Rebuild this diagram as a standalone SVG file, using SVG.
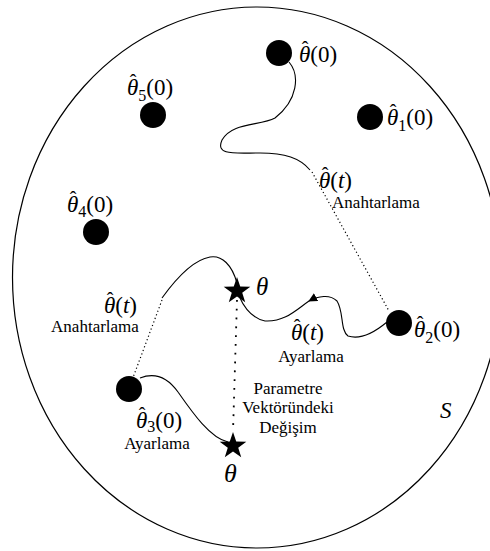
<svg xmlns="http://www.w3.org/2000/svg" width="490" height="551" viewBox="0 0 490 551">
<style>
.bd{fill:none;stroke:#000;stroke-width:1.2}
.ln{fill:none;stroke:#000;stroke-width:1.1}
.dt{fill:none;stroke:#000;stroke-width:1.2;stroke-dasharray:1.2,2.6}
.dv{fill:none;stroke:#000;stroke-width:1.8;stroke-dasharray:1.8,7}
.dot{fill:#000}
.m{font-family:"Liberation Serif","Times New Roman","DejaVu Serif",serif;font-size:23px;fill:#000}
.i{font-style:italic}
.h{font-size:20px;font-style:normal}
.sb{font-size:16px}
.t{font-family:"Liberation Serif","Times New Roman","DejaVu Serif",serif;font-size:17px;fill:#000}
</style>
<defs>
<polygon id="star" points="0,-14 3.23,-4.45 13.31,-4.33 5.23,1.7 8.23,11.33 0,5.5 -8.23,11.33 -5.23,1.7 -13.31,-4.33 -3.23,-4.45" fill="#000"/>
<marker id="arr" viewBox="0 0 10 10" refX="9" refY="5" markerWidth="9" markerHeight="9" markerUnits="userSpaceOnUse" orient="auto">
<path d="M0,0 L10,5 L0,10 z" fill="#000"/>
</marker>
</defs>
<g id="region">
<ellipse class="bd" cx="257" cy="277.5" rx="244.5" ry="270.5"/>
<text class="m i" x="440" y="418">S</text>
</g>
<g id="connectors">
<path class="ln" d="M289,62 C300,75 298,100 275,118 C260,126 232,122 222,140 C215,156 235,153 260,153 C285,153 300,158 310,170"/>
<path class="dt" d="M312,172 L389,311"/>
<path class="ln" marker-end="url(#arr)" d="M387,322 C375,332 360,340 348,336 C340,330 344,312 337,301 C330,294 318,296 309,301"/>
<path class="ln" d="M309,301 C296,310 285,322 265,321 C250,318 243,305 239,296"/>
<path class="ln" d="M237,283 C232,265 222,255 210,257 C192,260 175,280 162,298"/>
<path class="dt" d="M162,300 L131,383"/>
<path class="ln" d="M140,378 C155,372 168,378 178,392 C192,412 210,438 228,442"/>
<path class="dv" d="M237,300 L233,432"/>
</g>
<g id="theta0">
<circle class="dot" cx="279" cy="53" r="13"/>
<text class="m" x="299" y="62"><tspan class="i">θ</tspan><tspan class="h" dx="-8.5" dy="-6">ˆ</tspan><tspan dx="1.8" dy="6">(0)</tspan></text>
</g>
<g id="theta1">
<circle class="dot" cx="370" cy="117" r="13"/>
<text class="m" x="387" y="125"><tspan class="i">θ</tspan><tspan class="h" dx="-8.5" dy="-6">ˆ</tspan><tspan class="sb" dx="1.8" dy="12">1</tspan><tspan dy="-6">(0)</tspan></text>
</g>
<g id="theta5">
<circle class="dot" cx="153" cy="115" r="13"/>
<text class="m" x="127" y="95"><tspan class="i">θ</tspan><tspan class="h" dx="-8.5" dy="-6">ˆ</tspan><tspan class="sb" dx="1.8" dy="12">5</tspan><tspan dy="-6">(0)</tspan></text>
</g>
<g id="theta4">
<circle class="dot" cx="96" cy="232" r="13"/>
<text class="m" x="67" y="212"><tspan class="i">θ</tspan><tspan class="h" dx="-8.5" dy="-6">ˆ</tspan><tspan class="sb" dx="1.8" dy="11">4</tspan><tspan dy="-5">(0)</tspan></text>
</g>
<g id="theta2">
<circle class="dot" cx="399" cy="323" r="13"/>
<text class="m" x="414" y="337"><tspan class="i">θ</tspan><tspan class="h" dx="-8.5" dy="-6">ˆ</tspan><tspan class="sb" dx="1.8" dy="12">2</tspan><tspan dy="-6">(0)</tspan></text>
</g>
<g id="theta3">
<circle class="dot" cx="129" cy="389" r="13"/>
<text class="m" x="136" y="428"><tspan class="i">θ</tspan><tspan class="h" dx="-8.5" dy="-6">ˆ</tspan><tspan class="sb" dx="1.8" dy="10">3</tspan><tspan dy="-4">(0)</tspan></text>
<text class="t" x="157" y="449" text-anchor="middle">Ayarlama</text>
</g>
<g id="star1">
<use href="#star" x="237" y="291"/>
<text class="m i" x="256" y="295" style="font-size:25px">θ</text>
</g>
<g id="star2">
<use href="#star" x="233" y="446"/>
<text class="m i" x="224" y="482" style="font-size:26px">θ</text>
</g>
<g id="label-switch-right">
<text class="m" x="319" y="188"><tspan class="i">θ</tspan><tspan class="h" dx="-8.5" dy="-6">ˆ</tspan><tspan dx="1.8" dy="6">(</tspan><tspan class="i">t</tspan>)</text>
<text class="t" x="376" y="208" text-anchor="middle">Anahtarlama</text>
</g>
<g id="label-switch-left">
<text class="m" x="104" y="313"><tspan class="i">θ</tspan><tspan class="h" dx="-8.5" dy="-6">ˆ</tspan><tspan dx="1.8" dy="6">(</tspan><tspan class="i">t</tspan>)</text>
<text class="t" x="95" y="332" text-anchor="middle">Anahtarlama</text>
</g>
<g id="label-adapt">
<text class="m" x="291" y="340"><tspan class="i">θ</tspan><tspan class="h" dx="-8.5" dy="-6">ˆ</tspan><tspan dx="1.8" dy="6">(</tspan><tspan class="i">t</tspan>)</text>
<text class="t" x="311" y="362" text-anchor="middle">Ayarlama</text>
</g>
<g id="label-change">
<text class="t" x="288" y="394" text-anchor="middle">Parametre</text>
<text class="t" x="288" y="413" text-anchor="middle">Vektöründeki</text>
<text class="t" x="288" y="433" text-anchor="middle">Değişim</text>
</g>
</svg>
